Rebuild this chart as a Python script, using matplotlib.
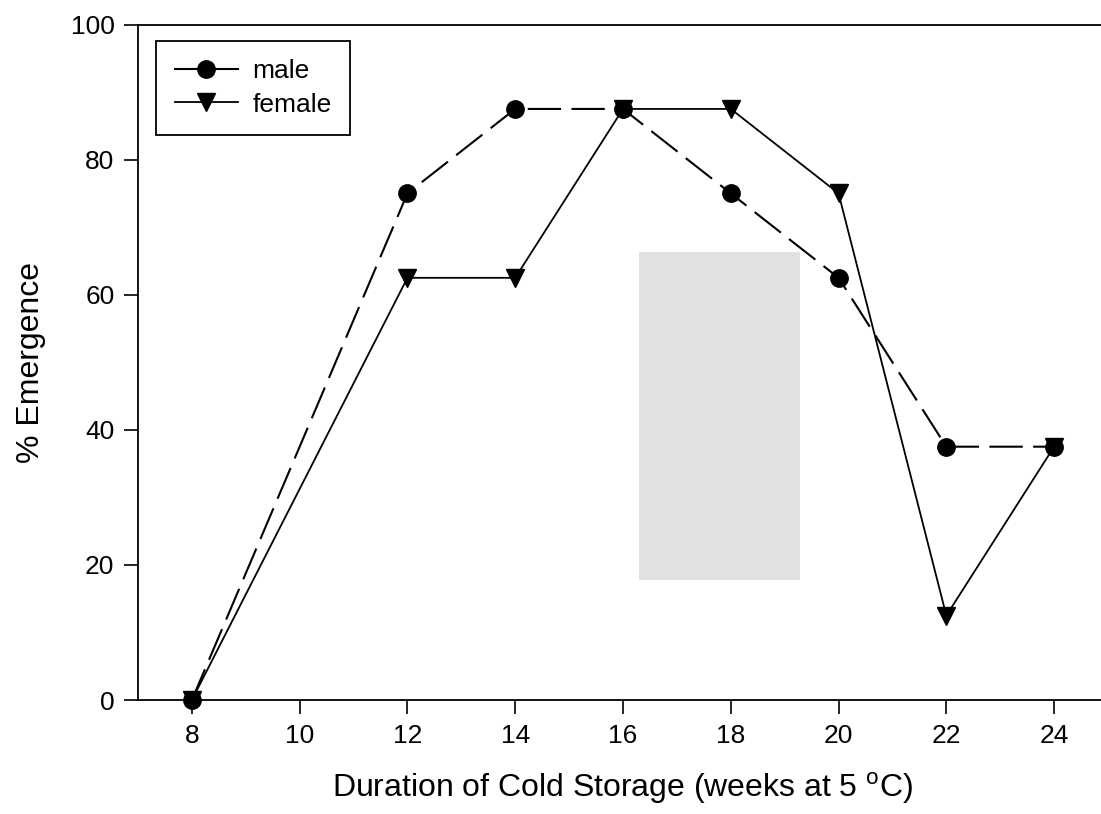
import matplotlib
matplotlib.use('Agg')
import matplotlib.pyplot as plt
from matplotlib.patches import Rectangle

plt.rcParams['font.family'] = ['Liberation Sans', 'DejaVu Sans']
plt.rcParams['mathtext.fontset'] = 'custom'
plt.rcParams['mathtext.rm'] = 'Liberation Sans'

weeks = [8, 12, 14, 16, 18, 20, 22, 24]
male = [0, 75, 87.5, 87.5, 75, 62.5, 37.5, 37.5]
female = [0, 62.5, 62.5, 87.5, 87.5, 75, 12.5, 37.5]
xticks = [8, 10, 12, 14, 16, 18, 20, 22, 24]
yticks = [0, 20, 40, 60, 80, 100]

fig = plt.figure(figsize=(11.01, 8.14), dpi=100)
# axes box in pixels: left 138, right ~1108 (off canvas), top 24.5, bottom 700
ax = fig.add_axes([138/1101, (814-700)/814, 970/1101, 675.5/814])

# grey smudge from the scan
ax.add_patch(Rectangle((0.517, 0.178), 0.165, 0.485, transform=ax.transAxes,
                       facecolor='#e1e1e1', edgecolor='none', zorder=0))

ax.plot(weeks, male, color='black', lw=1.5, dashes=(16, 5), marker='o',
        markersize=12.5, label='male', clip_on=False, zorder=3)
ax.plot(weeks, female, color='black', lw=1.3, marker='v',
        markersize=12.5, label='female', clip_on=False, zorder=3)

ax.set_xlim(7, 25)
ax.set_ylim(0, 100)
ax.set_xticks(xticks)
ax.set_yticks(yticks)
ax.tick_params(direction='out', length=10, width=1.2, labelsize=19, pad=7)
for s in ['left', 'bottom', 'top']:
    ax.spines[s].set_linewidth(1.3)
ax.spines['right'].set_visible(False)

ax.set_xlabel('Duration of Cold Storage (weeks at 5 $^{\\rm o}$C)', fontsize=23, labelpad=16)
ax.set_ylabel('% Emergence', fontsize=23, labelpad=18)

leg = ax.legend(loc='upper left', bbox_to_anchor=(0.0186, 0.9756), borderaxespad=0,
                fontsize=19, handlelength=2.4, labelspacing=0.35, fancybox=False,
                edgecolor='black', framealpha=1, borderpad=0.7, handletextpad=0.55)
leg.get_frame().set_linewidth(1.3)
leg.get_lines()[0].set_linestyle('-')

fig.savefig('out.png', dpi=100)
